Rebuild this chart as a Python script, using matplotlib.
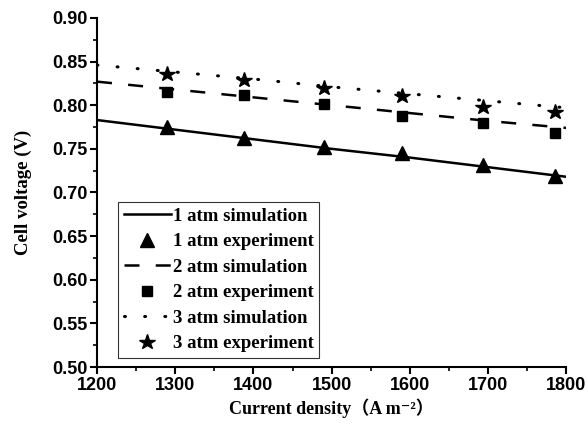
import matplotlib
matplotlib.use("Agg")
import matplotlib.pyplot as plt
from matplotlib.ticker import MultipleLocator, FormatStrFormatter

# Simulation curves (current density in A m^-2, voltage in V)
sim_current = [1200, 1300, 1400, 1500, 1600, 1700, 1800]
sim_1atm = [0.783, 0.772, 0.761, 0.750, 0.740, 0.729, 0.718]
sim_2atm = [0.827, 0.818, 0.809, 0.800, 0.791, 0.782, 0.774]
sim_3atm = [0.846, 0.838, 0.830, 0.821, 0.813, 0.805, 0.797]

# Experimental measurements
exp_current = [1290, 1388, 1490, 1590, 1694, 1786]
exp_1atm = [0.775, 0.763, 0.752, 0.745, 0.731, 0.719]
exp_2atm = [0.815, 0.812, 0.801, 0.788, 0.780, 0.768]
exp_3atm = [0.836, 0.829, 0.820, 0.810, 0.798, 0.792]

labels = ["1 atm simulation", "1 atm experiment",
          "2 atm simulation", "2 atm experiment",
          "3 atm simulation", "3 atm experiment"]

fig = plt.figure(figsize=(5.88, 4.37), dpi=100)
ax = fig.add_axes([0.165, 0.160, 0.798, 0.799])

lw = 1.8
ax.plot(sim_current, sim_1atm, color='black', lw=lw, label=labels[0])
ax.plot(exp_current, exp_1atm, 'k^', ms=10.5, ls='none', label=labels[1])
ax.plot(sim_current, sim_2atm, color='black', lw=lw, ls=(0, (6, 6.5)), label=labels[2])
ax.plot(exp_current, exp_2atm, 'ks', ms=7.5, ls='none', label=labels[3])
ax.plot(sim_current, sim_3atm, color='black', lw=2.2, ls=(0, (0.3, 6.3)),
        dash_capstyle='round', label=labels[4])
ax.plot(exp_current, exp_3atm, 'k*', ms=11.5, ls='none', label=labels[5])

ax.set_xlim(1200, 1800)
ax.set_ylim(0.50, 0.90)
ax.xaxis.set_major_locator(MultipleLocator(100))
ax.xaxis.set_minor_locator(MultipleLocator(50))
ax.yaxis.set_major_locator(MultipleLocator(0.05))
ax.yaxis.set_minor_locator(MultipleLocator(0.025))
ax.yaxis.set_major_formatter(FormatStrFormatter('%.2f'))

for side in ('top', 'right'):
    ax.spines[side].set_visible(False)
for side in ('left', 'bottom'):
    ax.spines[side].set_linewidth(1.5)

ax.tick_params(which='major', direction='out', length=5, width=1.5,
               labelsize=13, pad=2)
ax.tick_params(which='minor', direction='out', length=3, width=1.2)
for lab in ax.get_xticklabels() + ax.get_yticklabels():
    lab.set_fontfamily('Liberation Sans')
    lab.set_fontweight('bold')

serif_fallback = ['Liberation Serif', 'DejaVu Serif', 'Noto Sans CJK SC']
ax.set_ylabel("Cell voltage (V)", fontfamily='Liberation Serif',
              fontweight='bold', fontsize=13.5, labelpad=14)
ax.set_xlabel("Current density（A m⁻²）", fontfamily=serif_fallback,
              fontweight='bold', fontsize=13, labelpad=3)

leg = ax.legend(loc='lower left', bbox_to_anchor=(0.045, 0.026),
                prop={'family': 'Liberation Serif', 'weight': 'bold', 'size': 13.5},
                frameon=True, fancybox=False, edgecolor='black',
                handlelength=2.5, handletextpad=0.1, labelspacing=0.45,
                borderpad=0.3, borderaxespad=0.0, numpoints=1)
leg.get_frame().set_linewidth(0.8)

fig.savefig("out.png", dpi=100)
